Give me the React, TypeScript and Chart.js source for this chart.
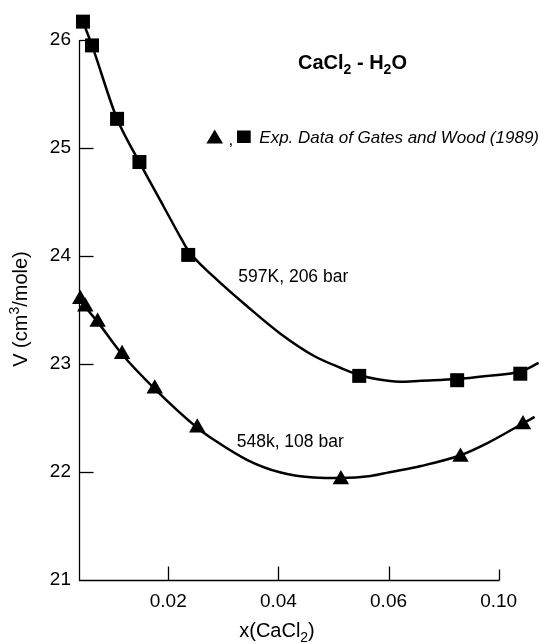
import React, { useEffect, useRef } from 'react';
import { Chart, registerables } from 'chart.js';

Chart.register(...registerables);

// ---- data ----
// experimental points, 597 K / 206 bar (squares)
const sq597X = [0.00452, 0.00616, 0.01071, 0.01477, 0.02363, 0.05468, 0.07246, 0.08392];
const sq597Y = [26.17, 25.95, 25.27, 24.87, 24.01, 22.89, 22.85, 22.91];
// experimental points, 548 K / 108 bar (triangles)
const tri548X = [0.00403, 0.00494, 0.00718, 0.01162, 0.01755, 0.02527, 0.05135, 0.07306, 0.08441];
const tri548Y = [23.6, 23.53, 23.39, 23.09, 22.77, 22.41, 21.93, 22.14, 22.44];
// model curve, 597 K
const fit597X = [0.00452, 0.00616, 0.01071, 0.01477, 0.01919, 0.02223, 0.02363, 0.02829, 0.03437, 0.04043, 0.04649, 0.05135, 0.05468, 0.05803, 0.06196, 0.06591, 0.07246, 0.07804, 0.08392, 0.08725];
const fit597Y = [26.17, 25.95, 25.27, 24.87, 24.456, 24.173, 24.05, 23.806, 23.532, 23.278, 23.074, 22.963, 22.898, 22.858, 22.836, 22.845, 22.86, 22.89, 22.93, 23.01];
// model curve, 548 K
const fit548X = [0.00403, 0.00494, 0.00718, 0.01162, 0.01755, 0.02527, 0.02829, 0.03437, 0.04043, 0.04649, 0.05135, 0.0568, 0.05984, 0.06591, 0.07306, 0.07804, 0.08441, 0.08652];
const fit548Y = [23.6, 23.53, 23.39, 23.09, 22.77, 22.41, 22.298, 22.111, 21.995, 21.949, 21.944, 21.963, 21.994, 22.056, 22.155, 22.27, 22.45, 22.51];

// axes
const xTickValues = [0.02, 0.04, 0.06, 0.08];
const xTickLabels = ['0.02', '0.04', '0.06', '0.10'];
const yTickValues = [21, 22, 23, 24, 25, 26];
const yTickLabels = ['21', '22', '23', '24', '25', '26'];
const xAxisStart = 0.0038;
const xAxisEnd = 0.08;
const xViewMax = 0.0885;
const yAxisStart = 21;
const yAxisEnd = 26;
const yViewMax = 26.3;

const FONT = '"Liberation Sans", Arial, Helvetica, sans-serif';

type Seg = { t: string; size: number; weight?: string; style?: string; dy?: number };

function fontOf(s: Seg) {
  return `${s.style || 'normal'} ${s.weight || 'normal'} ${s.size}px ${FONT}`;
}

function drawSegs(ctx: CanvasRenderingContext2D, segs: Seg[], x: number, y: number, align: 'left' | 'center') {
  const widths = segs.map((s) => {
    ctx.font = fontOf(s);
    return ctx.measureText(s.t).width;
  });
  const total = widths.reduce((a, b) => a + b, 0);
  let cx = align === 'center' ? x - total / 2 : x;
  ctx.textAlign = 'left';
  ctx.textBaseline = 'alphabetic';
  segs.forEach((s, i) => {
    ctx.font = fontOf(s);
    ctx.fillText(s.t, cx, y + (s.dy || 0));
    cx += widths[i];
  });
}

const decorPlugin = {
  id: 'decor',
  afterDraw(chart: any) {
    const ctx: CanvasRenderingContext2D = chart.ctx;
    const xs = chart.scales.x;
    const ys = chart.scales.y;
    ctx.save();
    ctx.strokeStyle = '#000';
    ctx.fillStyle = '#000';
    ctx.lineWidth = 1.3;

    const left = Math.round(xs.getPixelForValue(xAxisStart)) + 0.5;
    const right = xs.getPixelForValue(xAxisEnd);
    const bottom = Math.round(ys.getPixelForValue(yAxisStart)) + 0.5;
    const top = ys.getPixelForValue(yAxisEnd);

    // axis lines
    ctx.beginPath();
    ctx.moveTo(left, top);
    ctx.lineTo(left, bottom);
    ctx.lineTo(right + 0.7, bottom);
    ctx.stroke();

    // inward tick marks
    yTickValues.slice(1).forEach((v) => {
      const py = Math.round(ys.getPixelForValue(v)) + 0.5;
      ctx.beginPath();
      ctx.moveTo(left, py);
      ctx.lineTo(left + 14, py);
      ctx.stroke();
    });
    xTickValues.forEach((v, i) => {
      const px = Math.round(xs.getPixelForValue(v)) + 0.5;
      const len = i === xTickValues.length - 1 ? 11 : 14;
      ctx.beginPath();
      ctx.moveTo(px, bottom);
      ctx.lineTo(px, bottom - len);
      ctx.stroke();
    });

    // title
    drawSegs(ctx, [
      { t: 'CaCl', size: 20, weight: 'bold' },
      { t: '2', size: 14, weight: 'bold', dy: 5 },
      { t: ' - H', size: 20, weight: 'bold' },
      { t: '2', size: 14, weight: 'bold', dy: 5 },
      { t: 'O', size: 20, weight: 'bold' },
    ], 352.5, 69, 'center');

    // legend line
    ctx.beginPath();
    ctx.moveTo(214.7, 129.5);
    ctx.lineTo(223, 143.5);
    ctx.lineTo(206.4, 143.5);
    ctx.closePath();
    ctx.fill();
    drawSegs(ctx, [{ t: ',', size: 17 }], 228.5, 145, 'left');
    ctx.fillRect(237, 130.5, 13.7, 12.5);
    drawSegs(ctx, [{ t: 'Exp. Data of Gates and Wood (1989)', size: 17, style: 'italic' }], 259.3, 143.3, 'left');

    // curve labels
    drawSegs(ctx, [{ t: '597K, 206 bar', size: 17.5 }], 238.3, 281.6, 'left');
    drawSegs(ctx, [{ t: '548k, 108 bar', size: 17.5 }], 236.7, 446.8, 'left');

    // x axis title
    drawSegs(ctx, [
      { t: 'x(CaCl', size: 20 },
      { t: '2', size: 14, dy: 5 },
      { t: ')', size: 20 },
    ], 277, 637, 'center');

    // y axis title
    ctx.translate(26.5, 309);
    ctx.rotate(-Math.PI / 2);
    drawSegs(ctx, [
      { t: 'V (cm', size: 20 },
      { t: '3', size: 14, dy: -8 },
      { t: '/mole)', size: 20 },
    ], 0, 0, 'center');
    ctx.restore();
  },
};

export default function App() {
  const ref = useRef<HTMLCanvasElement | null>(null);

  useEffect(() => {
    document.body.style.margin = '0';
    const canvas = ref.current;
    if (!canvas) return;
    const toPts = (xa: number[], ya: number[]) => xa.map((x, i) => ({ x, y: ya[i] }));
    const chart = new Chart(canvas, {
      type: 'line',
      data: {
        datasets: [
          {
            label: '597K fit',
            data: toPts(fit597X, fit597Y),
            borderColor: '#000',
            borderWidth: 2.5,
            pointRadius: 0,
            cubicInterpolationMode: 'monotone',
            fill: false,
            clip: false as any,
          },
          {
            label: '548K fit',
            data: toPts(fit548X, fit548Y),
            borderColor: '#000',
            borderWidth: 2.5,
            pointRadius: 0,
            cubicInterpolationMode: 'monotone',
            fill: false,
            clip: false as any,
          },
          {
            label: '597K, 206 bar',
            data: toPts(sq597X, sq597Y),
            showLine: false,
            pointStyle: 'rect',
            pointRadius: 9.9,
            pointBackgroundColor: '#000',
            pointBorderColor: '#000',
            pointBorderWidth: 0,
            clip: false as any,
          },
          {
            label: '548k, 108 bar',
            data: toPts(tri548X, tri548Y),
            showLine: false,
            pointStyle: 'triangle',
            pointRadius: 9.5,
            pointBackgroundColor: '#000',
            pointBorderColor: '#000',
            pointBorderWidth: 0,
            clip: false as any,
          },
        ],
      },
      options: {
        responsive: false,
        animation: false,
        devicePixelRatio: 1,
        layout: { autoPadding: false, padding: { top: 7.6, right: 1.5, left: 0, bottom: 0 } },
        plugins: {
          legend: { display: false },
          tooltip: { enabled: false },
          title: { display: false },
        },
        scales: {
          x: {
            type: 'linear',
            min: xAxisStart,
            max: xViewMax,
            afterFit: (s: any) => {
              s.height = 64;
              s.paddingLeft = 0;
              s.paddingRight = 0;
            },
            afterBuildTicks: (s: any) => {
              s.ticks = xTickValues.map((v) => ({ value: v }));
            },
            ticks: {
              callback: (_v: any, i: number) => xTickLabels[i],
              font: { family: FONT, size: 19 },
              color: '#000',
              padding: 10,
              maxRotation: 0,
              autoSkip: false,
            },
            grid: { display: false, drawTicks: false },
            border: { display: false },
          },
          y: {
            type: 'linear',
            min: yAxisStart,
            max: yViewMax,
            afterFit: (s: any) => {
              s.width = 79;
              s.paddingTop = 0;
              s.paddingBottom = 0;
            },
            afterBuildTicks: (s: any) => {
              s.ticks = yTickValues.map((v) => ({ value: v }));
            },
            ticks: {
              callback: (_v: any, i: number) => yTickLabels[i],
              font: { family: FONT, size: 19 },
              color: '#000',
              padding: 8,
              autoSkip: false,
            },
            grid: { display: false, drawTicks: false },
            border: { display: false },
          },
        },
      } as any,
      plugins: [decorPlugin],
    });
    return () => chart.destroy();
  }, []);

  return (
    <div style={{ width: 547, height: 644 }}>
      <canvas ref={ref} width={547} height={644} style={{ display: 'block' }} />
    </div>
  );
}
